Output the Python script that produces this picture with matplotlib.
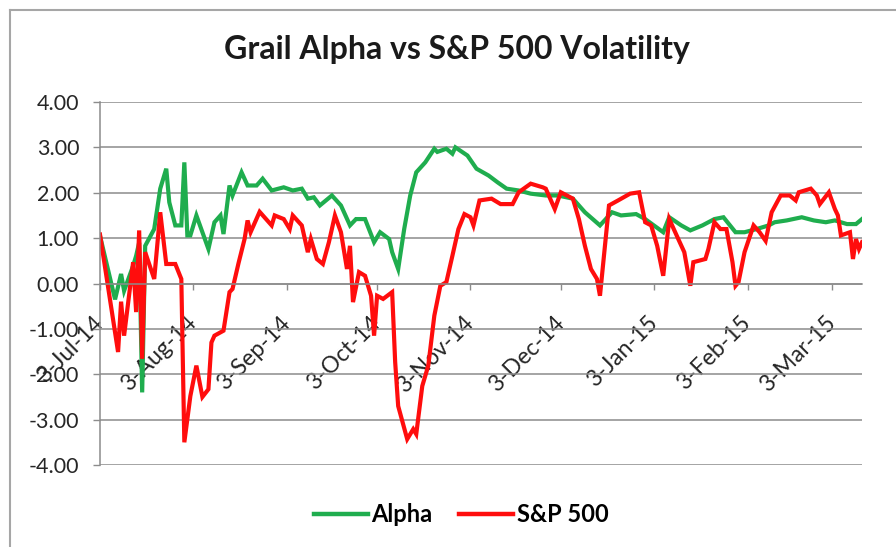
import matplotlib
matplotlib.use("Agg")
from matplotlib import pyplot as plt
from matplotlib.lines import Line2D
import pandas as pd

plt.rcParams['font.family'] = ['Lato', 'DejaVu Sans']

# Alpha volatility
alpha_dates = ["2014-07-03", "2014-07-08", "2014-07-10", "2014-07-11", "2014-07-14", "2014-07-15",
               "2014-07-16", "2014-07-17", "2014-07-18", "2014-07-21", "2014-07-23", "2014-07-25",
               "2014-07-26", "2014-07-28", "2014-07-30", "2014-07-31", "2014-08-01", "2014-08-02",
               "2014-08-04", "2014-08-08", "2014-08-10", "2014-08-12", "2014-08-13", "2014-08-15",
               "2014-08-16", "2014-08-19", "2014-08-21", "2014-08-24", "2014-08-26", "2014-08-29",
               "2014-09-02", "2014-09-05", "2014-09-08", "2014-09-10", "2014-09-12", "2014-09-14",
               "2014-09-18", "2014-09-21", "2014-09-24", "2014-09-26", "2014-09-29", "2014-10-02",
               "2014-10-04", "2014-10-07", "2014-10-08", "2014-10-10", "2014-10-12", "2014-10-14",
               "2014-10-16", "2014-10-19", "2014-10-22", "2014-10-23", "2014-10-26", "2014-10-28",
               "2014-10-29", "2014-11-02", "2014-11-05", "2014-11-09", "2014-11-12", "2014-11-15",
               "2014-11-19", "2014-11-23", "2014-11-28", "2014-12-02", "2014-12-07", "2014-12-11",
               "2014-12-16", "2014-12-20", "2014-12-23", "2014-12-28", "2014-12-31", "2015-01-06",
               "2015-01-08", "2015-01-12", "2015-01-15", "2015-01-19", "2015-01-23", "2015-01-26",
               "2015-01-30", "2015-02-02", "2015-02-06", "2015-02-10", "2015-02-12", "2015-02-16",
               "2015-02-21", "2015-02-25", "2015-03-01", "2015-03-04", "2015-03-08", "2015-03-11",
               "2015-03-13"]
alpha_vals = [1.05, -0.35, 0.21, -0.16, 0.39, 0.61,
              0.90, -2.40, 0.83, 1.20, 2.09, 2.53,
              1.79, 1.28, 1.28, 2.67, 1.06, 1.06,
              1.50, 0.76, 1.35, 1.50, 1.09, 2.16,
              1.94, 2.45, 2.16, 2.16, 2.31, 2.05,
              2.12, 2.05, 2.09, 1.87, 1.90, 1.72,
              1.94, 1.72, 1.28, 1.42, 1.42, 0.91,
              1.13, 0.98, 0.69, 0.32, 1.20, 1.94,
              2.45, 2.67, 2.97, 2.90, 2.97, 2.86,
              3.00, 2.82, 2.53, 2.38, 2.23, 2.09,
              2.05, 1.98, 1.94, 1.94, 1.87, 1.57,
              1.28, 1.57, 1.50, 1.53, 1.42, 1.13,
              1.46, 1.28, 1.17, 1.28, 1.42, 1.46,
              1.13, 1.13, 1.20, 1.28, 1.35, 1.39,
              1.46, 1.39, 1.35, 1.39, 1.31, 1.31,
              1.42]

# S&P 500 volatility
sp_dates = ["2014-07-03", "2014-07-09", "2014-07-10", "2014-07-11", "2014-07-14", "2014-07-15",
            "2014-07-16", "2014-07-17", "2014-07-18", "2014-07-21", "2014-07-23", "2014-07-25",
            "2014-07-28", "2014-07-30", "2014-07-31", "2014-08-02", "2014-08-04", "2014-08-06",
            "2014-08-08", "2014-08-09", "2014-08-10", "2014-08-13", "2014-08-15", "2014-08-16",
            "2014-08-18", "2014-08-20", "2014-08-21", "2014-08-22", "2014-08-25", "2014-08-29",
            "2014-08-30", "2014-09-02", "2014-09-04", "2014-09-05", "2014-09-08", "2014-09-10",
            "2014-09-11", "2014-09-13", "2014-09-15", "2014-09-17", "2014-09-19", "2014-09-21",
            "2014-09-23", "2014-09-24", "2014-09-25", "2014-09-27", "2014-09-29", "2014-10-01",
            "2014-10-02", "2014-10-03", "2014-10-05", "2014-10-08", "2014-10-09", "2014-10-10",
            "2014-10-13", "2014-10-15", "2014-10-16", "2014-10-18", "2014-10-20", "2014-10-22",
            "2014-10-24", "2014-10-26", "2014-10-28", "2014-10-30", "2014-11-01", "2014-11-03",
            "2014-11-04", "2014-11-06", "2014-11-10", "2014-11-13", "2014-11-17", "2014-11-19",
            "2014-11-23", "2014-11-27", "2014-11-28", "2014-12-01", "2014-12-03", "2014-12-07",
            "2014-12-09", "2014-12-11", "2014-12-13", "2014-12-15", "2014-12-16", "2014-12-18",
            "2014-12-19", "2014-12-22", "2014-12-26", "2014-12-29", "2014-12-31", "2015-01-02",
            "2015-01-04", "2015-01-06", "2015-01-08", "2015-01-11", "2015-01-13", "2015-01-15",
            "2015-01-16", "2015-01-20", "2015-01-21", "2015-01-23", "2015-01-25", "2015-01-27",
            "2015-01-29", "2015-01-30", "2015-01-31", "2015-02-02", "2015-02-05", "2015-02-07",
            "2015-02-09", "2015-02-11", "2015-02-14", "2015-02-17", "2015-02-19", "2015-02-20",
            "2015-02-24", "2015-02-26", "2015-02-27", "2015-03-02", "2015-03-04", "2015-03-05",
            "2015-03-06", "2015-03-09", "2015-03-10", "2015-03-11", "2015-03-12", "2015-03-13"]
sp_vals = [1.08, -1.51, -0.40, -1.15, 0.47, -0.63,
           1.17, -1.66, 0.69, 0.10, 1.57, 0.43,
           0.43, 0.10, -3.50, -2.48, -1.81, -2.50,
           -2.33, -1.30, -1.15, -1.04, -0.19, -0.12,
           0.45, 0.98, 1.39, 1.13, 1.58, 1.28,
           1.50, 1.42, 1.20, 1.50, 1.28, 0.69,
           0.98, 0.54, 0.43, 0.91, 1.50, 1.13,
           0.32, 0.83, -0.41, 0.25, 0.17, -0.27,
           -1.15, -0.27, -0.34, -0.19, -1.73, -2.70,
           -3.43, -3.21, -3.32, -2.26, -1.81, -0.71,
           -0.05, 0.03, 0.61, 1.20, 1.53, 1.46,
           1.28, 1.83, 1.87, 1.75, 1.75, 2.01,
           2.20, 2.12, 2.09, 1.64, 2.01, 1.87,
           1.42, 0.83, 0.32, 0.10, -0.27, 1.06,
           1.72, 1.83, 1.98, 2.01, 1.35, 1.28,
           0.83, 0.17, 1.42, 0.98, 0.69, -0.05,
           0.47, 0.54, 0.76, 1.35, 1.20, 1.20,
           0.47, -0.05, 0.03, 0.69, 1.28, 1.13,
           0.94, 1.57, 1.94, 1.94, 1.83, 2.01,
           2.09, 1.94, 1.75, 2.01, 1.64, 1.50,
           1.06, 1.13, 0.54, 0.98, 0.76, 0.91]

tick_dates = ["2014-07-03", "2014-08-03", "2014-09-03", "2014-10-03", "2014-11-03",
              "2014-12-03", "2015-01-03", "2015-02-03", "2015-03-03"]
tick_labels = ["3-Jul-14", "3-Aug-14", "3-Sep-14", "3-Oct-14", "3-Nov-14",
               "3-Dec-14", "3-Jan-15", "3-Feb-15", "3-Mar-15"]
y_ticks = [-4, -3, -2, -1, 0, 1, 2, 3, 4]

alpha_x = pd.to_datetime(alpha_dates)
sp_x = pd.to_datetime(sp_dates)

fig = plt.figure(figsize=(8.96, 5.47), dpi=100)
ax = fig.add_axes([100/896, 1 - 465/547, 762/896, 363/547])

green = '#1fad4e'
red = '#ff0d0d'
ax.plot(alpha_x, alpha_vals, color=green, lw=3.0, solid_joinstyle='miter', label='Alpha')
ax.plot(sp_x, sp_vals, color=red, lw=3.0, solid_joinstyle='miter', label='S&P 500')

ax.set_ylim(-4, 4)
ax.set_xlim(pd.Timestamp("2014-07-03"), pd.Timestamp("2015-03-13"))
ax.set_yticks(y_ticks)
ax.set_yticklabels(["%.2f" % v for v in y_ticks])
ax.set_xticks(pd.to_datetime(tick_dates))
ax.set_xticklabels(tick_labels)

ax.grid(axis='y', color='#8c8c8c', lw=1.1)
ax.set_axisbelow(True)
for s in ['top', 'right']:
    ax.spines[s].set_visible(False)
ax.spines['left'].set_color('#8c8c8c')
ax.spines['left'].set_linewidth(1.1)
ax.spines['bottom'].set_position(('data', 0))
ax.spines['bottom'].set_color('#8c8c8c')
ax.spines['bottom'].set_linewidth(1.1)

ax.tick_params(axis='y', length=5, width=1, color='#8c8c8c', labelsize=15.5,
               labelcolor='#262626', pad=10)
ax.tick_params(axis='x', length=4, width=1, color='#8c8c8c', labelsize=16.5,
               labelcolor='#262626', pad=22)
for lbl in ax.get_xticklabels():
    lbl.set_rotation(45)
    lbl.set_ha('right')
    lbl.set_va('center')
    lbl.set_rotation_mode('anchor')

fig.text(457/896, 1 - 50/547, "Grail Alpha vs S&P 500 Volatility", ha='center', va='center',
         fontsize=23, fontweight='bold', color='#1a1a1a')

handles = [Line2D([], [], color=green, lw=3.2), Line2D([], [], color=red, lw=3.2)]
fig.legend(handles, ['Alpha', 'S&P 500'], loc='center', bbox_to_anchor=(461/896, 1 - 515/547),
           ncol=2, frameon=False, handlelength=2.3, handletextpad=0.15, columnspacing=1.1,
           prop={'size': 17, 'weight': 'bold'})

# chart area border (left and top edges visible in the crop)
fig.add_artist(Line2D([10/896, 10/896], [0, 1 - 10/547], color='#a6a6a6', lw=1.5))
fig.add_artist(Line2D([10/896, 1], [1 - 10/547, 1 - 10/547], color='#a6a6a6', lw=1.5))

fig.savefig("out.png", dpi=100)
